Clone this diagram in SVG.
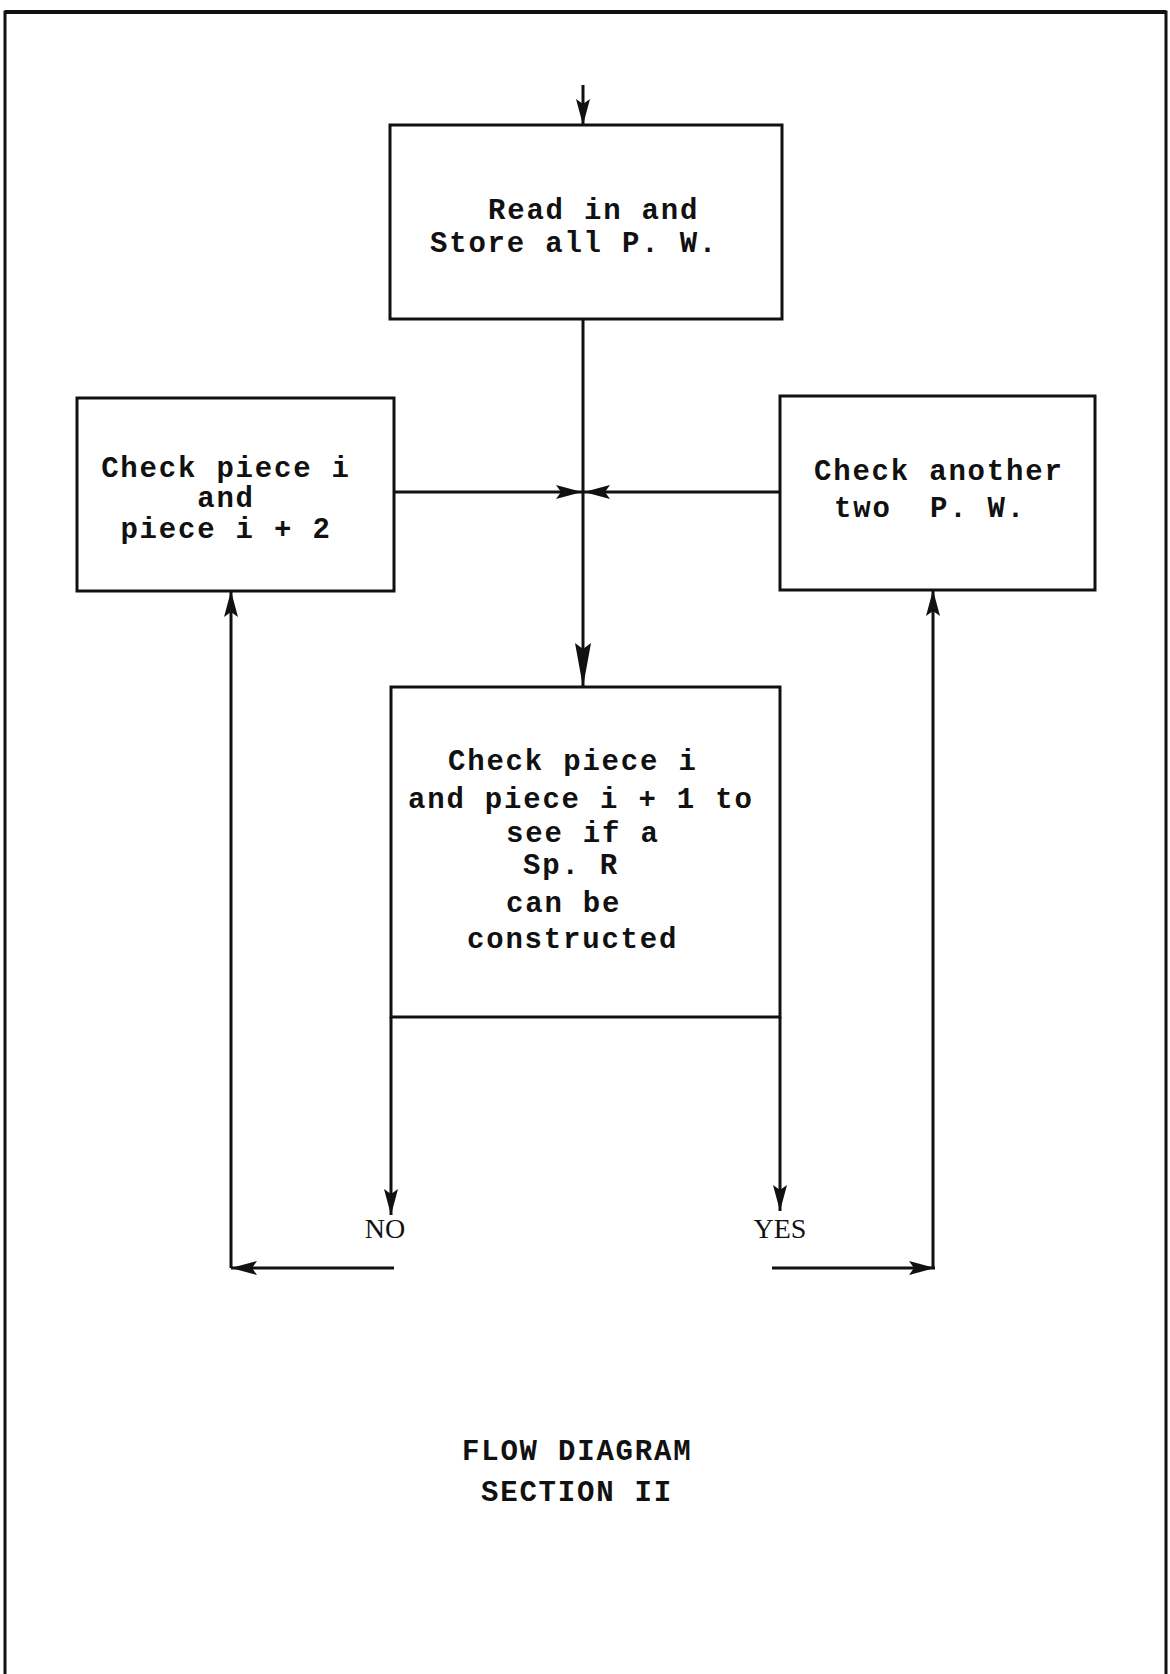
<svg xmlns="http://www.w3.org/2000/svg" width="1170" height="1674" viewBox="0 0 1170 1674">
  <style>
    .box { fill: none; stroke: #111; stroke-width: 3; }
    .ln { fill: none; stroke: #111; stroke-width: 3; }
    .t { font-family: "Liberation Mono", "Courier New", monospace; font-size: 29px; letter-spacing: 1.8px; font-weight: bold; fill: #111; }
    .lbl { font-family: "Liberation Serif", "Times New Roman", serif; font-size: 28px; fill: #111; }
  </style>
  <defs>
    <marker id="arr" markerUnits="userSpaceOnUse" markerWidth="30" markerHeight="18" refX="26" refY="8" orient="auto" viewBox="0 0 30 16">
      <path d="M0,1 L26,8 L0,15 L5,8 Z" fill="#111"/>
    </marker>
    <marker id="arrL" markerUnits="userSpaceOnUse" markerWidth="46" markerHeight="20" refX="44" refY="9" orient="auto" viewBox="0 0 46 18">
      <path d="M0,1 L44,9 L0,17 L6,9 Z" fill="#111"/>
    </marker>
  </defs>
  <rect width="1170" height="1674" fill="#ffffff"/>
  <g id="border">
    <path d="M5,1674 V12 H1166 V1674" fill="none" stroke="#111" stroke-width="3"/>
    <path d="M5,12 H1166" fill="none" stroke="#111" stroke-width="4"/>
  </g>
  <g id="connectors">
    <path class="ln" d="M583,85 V125" marker-end="url(#arr)"/>
    <path class="ln" d="M583,319 V687" marker-end="url(#arrL)"/>
    <path class="ln" d="M394,492 H582" marker-end="url(#arr)"/>
    <path class="ln" d="M780,492 H584" marker-end="url(#arr)"/>
    <path class="ln" d="M391,1017 V1215" marker-end="url(#arr)"/>
    <path class="ln" d="M780,1017 V1211" marker-end="url(#arr)"/>
    <path class="ln" d="M394,1268 H231" marker-end="url(#arr)"/>
    <path class="ln" d="M231,1268 V591" marker-end="url(#arr)"/>
    <path class="ln" d="M772,1268 H935" marker-end="url(#arr)"/>
    <path class="ln" d="M933,1268 V590" marker-end="url(#arr)"/>
  </g>
  <g id="read">
    <rect class="box" x="390" y="125" width="392" height="194"/>
    <text class="t" x="488" y="219">Read in and</text>
    <text class="t" x="430" y="252">Store all P. W.</text>
  </g>
  <g id="check2">
    <rect class="box" x="77" y="398" width="317" height="193"/>
    <text class="t" x="226" y="477" text-anchor="middle">Check piece i</text>
    <text class="t" x="226" y="507" text-anchor="middle">and</text>
    <text class="t" x="226" y="538" text-anchor="middle">piece i + 2</text>
  </g>
  <g id="another">
    <rect class="box" x="780" y="396" width="315" height="194"/>
    <text class="t" x="814" y="480">Check another</text>
    <text class="t" x="834" y="517" xml:space="preserve">two  P. W.</text>
  </g>
  <g id="check1">
    <rect class="box" x="391" y="687" width="389" height="330"/>
    <text class="t" x="448" y="770">Check piece i</text>
    <text class="t" x="408" y="808">and piece i + 1 to</text>
    <text class="t" x="506" y="842">see if a</text>
    <text class="t" x="523" y="874">Sp. R</text>
    <text class="t" x="506" y="912">can be</text>
    <text class="t" x="467" y="948">constructed</text>
  </g>
  <g id="labels">
    <text class="lbl" x="385" y="1238" text-anchor="middle">NO</text>
    <text class="lbl" x="780" y="1238" text-anchor="middle">YES</text>
  </g>
  <g id="title">
    <text class="t" x="462" y="1460">FLOW DIAGRAM</text>
    <text class="t" x="481" y="1501">SECTION II</text>
  </g>
</svg>
